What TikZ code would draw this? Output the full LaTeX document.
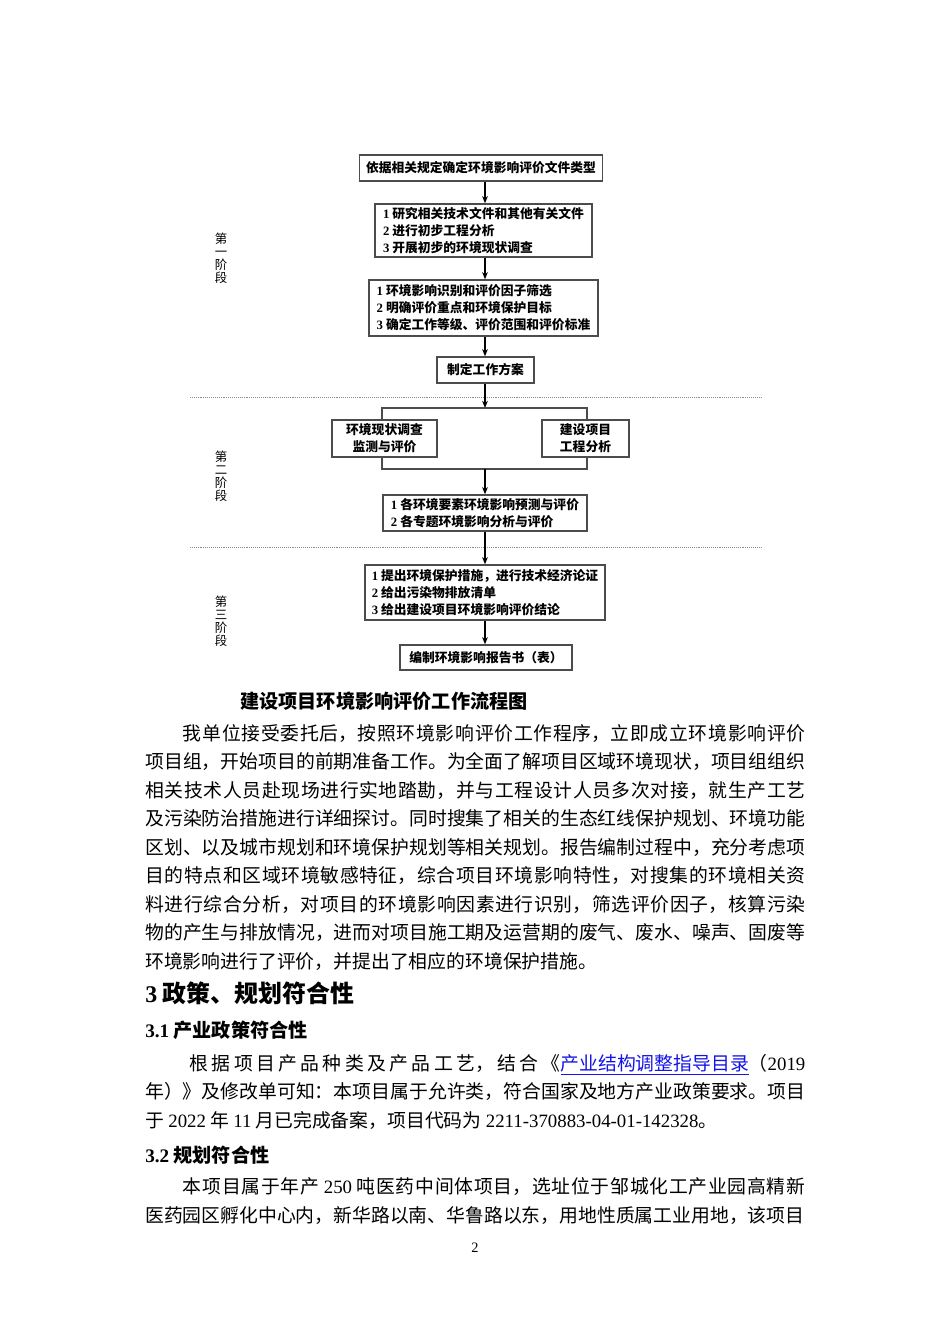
\documentclass[tikz,border=0pt]{standalone}
\usepackage{fontspec}
\setmainfont{Liberation Serif}
\newfontfamily\cjk{Noto Sans CJK SC}
\usetikzlibrary{arrows.meta}

\XeTeXlinebreaklocale "zh"
\XeTeXlinebreakskip=0pt plus 2pt minus 0.8pt
\newcommand\lat[1]{{\rmfamily #1}}
\definecolor{linkblue}{RGB}{20,20,230}

\tikzset{
  stepbox/.style={draw=black!70, line width=0.9pt, inner sep=0pt,
    font=\cjk\bfseries\fontsize{8pt}{10.6pt}\selectfont},
  flow/.style={-{Stealth[length=4.5pt,width=3.6pt]}, line width=0.9pt},
  stage/.style={font=\cjk\fontsize{7.8pt}{8.1pt}\selectfont, align=center, inner sep=0pt},
  phase line/.style={black!45, line width=0.5pt, dash pattern=on 0.5pt off 0.7pt},
  body/.style={font=\cjk\fontsize{11.8pt}{17.86pt}\selectfont, text width=413.6pt,
    align=justify, inner sep=0pt, anchor=base west},
  head/.style={font=\cjk\bfseries\fontsize{12pt}{14pt}\selectfont, inner sep=0pt, anchor=west},
}

\begin{document}
\begin{tikzpicture}[x=0.6266pt, y=-0.6266pt]
  \fill[white] (0,0) rectangle (950,1344);
  \useasboundingbox (0,0) rectangle (950,1344);

  % flow chart
  \coordinate (ax) at (485,0);
  \node[stepbox, minimum width=152.3pt, minimum height=16.3pt] (type) at (481,168)
    {依据相关规定确定环境影响评价文件类型};
  \node[stepbox, minimum width=136pt, minimum height=33.2pt, align=left] (study) at (483.5,230.5)
    {\lat{1} 研究相关技术文件和其他有关文件\\\lat{2} 进行初步工程分析\\\lat{3} 开展初步的环境现状调查};
  \node[stepbox, minimum width=143.5pt, minimum height=35.1pt, align=left] (ident) at (483.5,308)
    {\lat{1} 环境影响识别和评价因子筛选\\\lat{2} 明确评价重点和环境保护目标\\\lat{3} 确定工作等级、评价范围和评价标准};
  \node[stepbox, minimum width=60.8pt, minimum height=16.3pt] (plan) at (485.5,370) {制定工作方案};

  \node[stepbox, minimum width=65.8pt, minimum height=23.2pt, align=center] (survey) at (384.5,438.5)
    {环境现状调查\\监测与评价};
  \node[stepbox, minimum width=54.5pt, minimum height=23.2pt, align=center] (proj) at (585.5,438.5)
    {建设项目\\工程分析};
  \node[stepbox, minimum width=127.8pt, minimum height=22.6pt, align=left] (pred) at (485,513)
    {\lat{1} 各环境要素环境影响预测与评价\\\lat{2} 各专题环境影响分析与评价};

  \node[stepbox, minimum width=150.4pt, minimum height=34.5pt, align=left] (meas) at (485,592.5)
    {\lat{1} 提出环境保护措施，进行技术经济论证\\\lat{2} 给出污染物排放清单\\\lat{3} 给出建设项目环境影响评价结论};
  \node[stepbox, minimum width=107.8pt, minimum height=15.7pt] (report) at (486,657.5)
    {编制环境影响报告书（表）};

  \node[stage] (st1) at (221,258) {第\\一\\阶\\段};
  \node[stage] (st2) at (221,476) {第\\二\\阶\\段};
  \node[stage] (st3) at (221,621) {第\\三\\阶\\段};

  \draw[phase line] (190,397) -- (762,397);
  \draw[phase line] (190,547) -- (762,547);

  \coordinate (tl) at (382,408);
  \coordinate (tr) at (587,408);
  \coordinate (bl) at (382,469);
  \coordinate (br) at (587,469);
  \coordinate (tm) at (485,408);
  \coordinate (bm) at (485,469);

  \draw[flow] (type.south -| ax) -- (study.north -| ax);
  \draw[flow] (study.south -| ax) -- (ident.north -| ax);
  \draw[flow] (ident.south -| ax) -- (plan.north -| ax);
  \draw[flow] (plan.south -| ax) -- (tm);
  \draw[line width=0.9pt, black!70] (survey.north -| tl) -- (tl) -- (tr) -- (proj.north -| tr);
  \draw[line width=0.9pt, black!70] (survey.south -| bl) -- (bl) -- (br) -- (proj.south -| br);
  \draw[flow] (bm) -- (pred.north -| ax);
  \draw[flow] (pred.south -| ax) -- (meas.north -| ax);
  \draw[flow] (meas.south -| ax) -- (report.north -| ax);

  \node[font=\cjk\bfseries\fontsize{12pt}{14pt}\selectfont] (cap) at (384,701.5)
    {建设项目环境影响评价工作流程图};

  % text of the page
  \node[body] (para1) at (145,740) {\hspace*{2em}我单位接受委托后，按照环境影响评价工作程序，立即成立环境影响评价\linebreak
项目组，开始项目的前期准备工作。为全面了解项目区域环境现状，项目组组织\linebreak
相关技术人员赴现场进行实地踏勘，并与工程设计人员多次对接，就生产工艺\linebreak
及污染防治措施进行详细探讨。同时搜集了相关的生态红线保护规划、环境功能\linebreak
区划、以及城市规划和环境保护规划等相关规划。报告编制过程中，充分考虑项\linebreak
目的特点和区域环境敏感特征，综合项目环境影响特性，对搜集的环境相关资\linebreak
料进行综合分析，对项目的环境影响因素进行识别，筛选评价因子，核算污染\linebreak
物的产生与排放情况，进而对项目施工期及运营期的废气、废水、噪声、固废等\linebreak
环境影响进行了评价，并提出了相应的环境保护措施。};

  \node[head, font=\cjk\bfseries\fontsize{15pt}{17pt}\selectfont] (sec3) at (145,993)
    {\lat{3} 政策、规划符合性};
  \node[head] (sec31) at (145,1030.5) {\lat{3.1} 产业政策符合性};
  \node[body] (para31) at (145,1070) {\hspace*{2.35em}根据项目产品种类及产品工艺，结合《{\color{linkblue}\underline{产业结构调整指导目录}}（\lat{2019}\linebreak
年）》及修改单可知：本项目属于允许类，符合国家及地方产业政策要求。项目\linebreak
于 \lat{2022} 年 \lat{11} 月已完成备案，项目代码为 \lat{2211-370883-04-01-142328}。};
  \node[head] (sec32) at (145,1155) {\lat{3.2} 规划符合性};
  \node[body] (para32) at (145,1193.5) {\parfillskip=0pt\hspace*{2em}本项目属于年产 \lat{250} 吨医药中间体项目，选址位于邹城化工产业园高精新\linebreak
医药园区孵化中心内，新华路以南、华鲁路以东，用地性质属工业用地，该项目};

  \node[font=\fontsize{9pt}{10pt}\selectfont] (pgno) at (475,1248) {2};
\end{tikzpicture}
\end{document}
